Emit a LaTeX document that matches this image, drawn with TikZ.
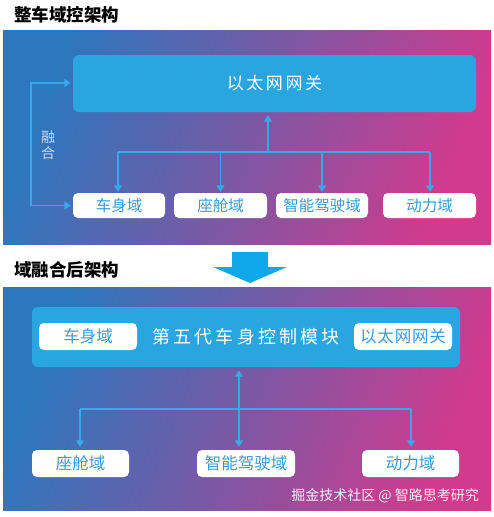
\documentclass[tikz,border=0pt]{standalone}
\usepackage{fontspec}
\setmainfont{Noto Sans CJK SC}
\usetikzlibrary{arrows.meta}
\definecolor{gA}{HTML}{2B78BE}
\definecolor{gB}{HTML}{7B58A4}
\definecolor{gC}{HTML}{D23A8D}
\definecolor{boxblue}{HTML}{29A6E0}
\definecolor{linec}{HTML}{35A9EA}
\definecolor{txtblue}{HTML}{3A9AD6}
\definecolor{bigarrow}{HTML}{10A8E8}
\definecolor{fusec}{HTML}{D0D8EE}
\pgfdeclarehorizontalshading{panelgrad}{100bp}{color(0bp)=(gA); color(25bp)=(gA); color(50bp)=(gB); color(75bp)=(gC); color(100bp)=(gC)}
\newcommand{\ls}[1]{\addfontfeature{LetterSpace=#1}}
\begin{document}
\begin{tikzpicture}[x=1pt,y=-1pt,
  panel/.style={shading=panelgrad, shading angle=-22},
  bluebox/.style={fill=boxblue, rounded corners=6pt, inner sep=0pt, text=white},
  whitebox/.style={fill=white, rounded corners=5pt, inner sep=0pt, text=txtblue},
  conn/.style={draw=linec, line width=1.4pt},
  tri/.tip={Triangle[width=8pt,length=6.5pt]},
  title/.style={font=\fontsize{17.5}{19}\selectfont\bfseries, text=black, anchor=west, inner sep=0pt}
]
\useasboundingbox (0,0) rectangle (494,517);
\fill[white] (0,0) rectangle (494,517);
% titles
\node[title] (t1) at (14,15) {整车域控架构};
\node[title] (t2) at (14,270) {域融合后架构};
% panels
\shade[panel] (3,30) rectangle (491,244);
\shade[panel] (3,287) rectangle (491,510);
% big arrow
\fill[bigarrow] (232,252) -- (268,252) -- (268,267) -- (287,267) -- (250,283) -- (213,267) -- (232,267) -- cycle;
% ---------- top diagram
\node[bluebox, minimum width=403pt, minimum height=57pt, font=\fontsize{17}{18}\selectfont\ls{15}] (gw) at (274.5,83.5) {以太网网关};
\node[whitebox, minimum width=92pt, minimum height=25pt, font=\fontsize{15.5}{16}\selectfont] (b1) at (119,205.5) {车身域};
\node[whitebox, minimum width=93pt, minimum height=25pt, font=\fontsize{15.5}{16}\selectfont] (b2) at (220.5,205.5) {座舱域};
\node[whitebox, minimum width=92pt, minimum height=25pt, font=\fontsize{15.5}{16}\selectfont] (b3) at (322,205.5) {智能驾驶域};
\node[whitebox, minimum width=93pt, minimum height=25pt, font=\fontsize{15.5}{16}\selectfont] (b4) at (429.5,205.5) {动力域};
\coordinate (f0) at (268,152);
\coordinate (fl) at (118,152);
\coordinate (fr) at (430,152);
\draw[conn, -tri, shorten >=3pt] (f0) -- (f0 |- gw.south);
\draw[conn] (fl) -- (fr);
\draw[conn, -tri, shorten >=1pt] (fl) -- (fl |- b1.north);
\draw[conn, -tri, shorten >=1pt] (b2.north |- f0) -- (b2.north);
\draw[conn, -tri, shorten >=1pt] (b3.north |- f0) -- (b3.north);
\draw[conn, -tri, shorten >=1pt] (fr) -- (fr |- b4.north);
% fusion loop
\coordinate (fu1) at (31,83);
\coordinate (fu2) at (31,205.5);
\draw[conn, -tri, shorten >=2pt] (fu2) -- (fu1) -- (gw.west |- fu1);
\draw[conn, -tri, shorten >=2pt] (fu2) -- (b1.west);
\node[text=fusec, font=\fontsize{14}{15}\selectfont, inner sep=0pt, align=center] (fuse) at (48,145) {融\\[1pt]合};
% ---------- bottom diagram
\node[bluebox, minimum width=428pt, minimum height=60pt, font=\fontsize{18}{19}\selectfont\ls{17}] (m) at (246,337) {第五代车身控制模块};
\node[whitebox, minimum width=98pt, minimum height=27pt, font=\fontsize{16.5}{17}\selectfont] (mb) at (88,336.5) {车身域};
\node[whitebox, minimum width=98pt, minimum height=27pt, font=\fontsize{16.5}{17}\selectfont\ls{5}] (mg) at (403,336.5) {以太网网关};
\node[whitebox, minimum width=97pt, minimum height=27pt, font=\fontsize{16.5}{17}\selectfont] (s1) at (80.5,463.5) {座舱域};
\node[whitebox, minimum width=98pt, minimum height=27pt, font=\fontsize{16.5}{17}\selectfont] (s2) at (246,463.5) {智能驾驶域};
\node[whitebox, minimum width=97pt, minimum height=27pt, font=\fontsize{16.5}{17}\selectfont] (s3) at (410.5,463.5) {动力域};
\coordinate (v) at (239,409);
\coordinate (hl) at (80,409);
\coordinate (hr) at (411,409);
\draw[conn, tri-tri, shorten <=3pt, shorten >=3pt] (v |- m.south) -- (v |- s2.north);
\draw[conn] (hl) -- (hr);
\draw[conn, -tri, shorten >=3pt] (hl) -- (hl |- s1.north);
\draw[conn, -tri, shorten >=3pt] (hr) -- (hr |- s3.north);
% watermark
\node[text=white, opacity=0.9, font=\fontsize{14}{15}\selectfont, inner sep=0pt, anchor=east] (wm) at (479,496) {掘金技术社区 @ 智路思考研究};
\end{tikzpicture}
\end{document}
